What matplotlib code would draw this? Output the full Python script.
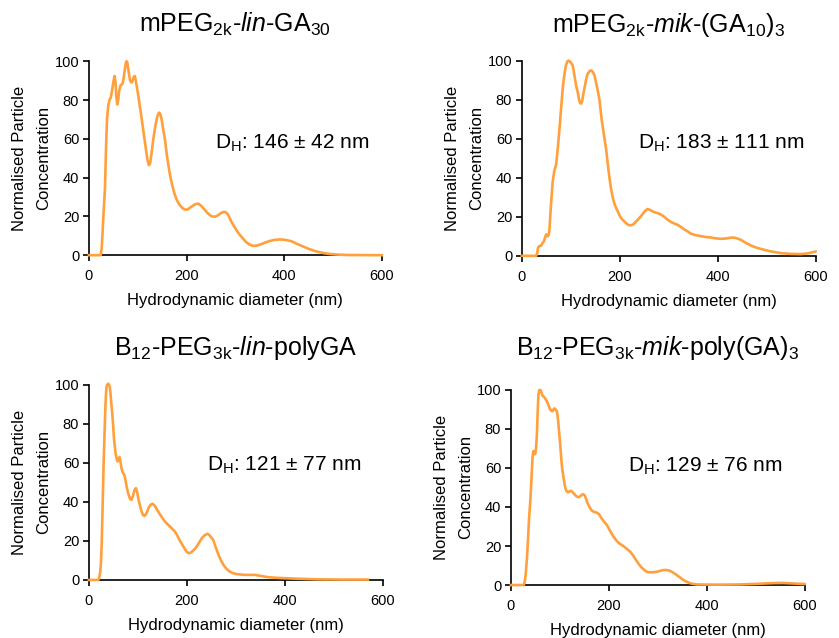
import matplotlib.pyplot as plt
import numpy as np

plt.rcParams['font.family'] = ['Liberation Sans', 'DejaVu Sans']
plt.rcParams['mathtext.fontset'] = 'custom'
plt.rcParams['mathtext.rm'] = 'Liberation Sans'
plt.rcParams['mathtext.it'] = 'Liberation Sans:italic'

orange = "#FFA03C"

# panel 1: mPEG2k-lin-GA30  (x in nm, y normalised)
x1 = [0, 24, 26, 28, 30, 32.8, 35, 37, 39.6, 42, 45, 48, 50.5, 52.6, 54.5, 56, 58, 60, 62, 64.8,
      67, 69, 71, 73.7, 75.5, 77, 78.5, 80, 82, 84.5, 87.4, 90, 92, 94, 96, 98, 101, 106, 111,
      116, 120, 123, 125.5, 128, 132, 136, 140, 143.5, 146, 149, 152, 155.6, 160, 165, 169,
      175, 180, 186, 193, 198, 203, 210, 217, 224, 230, 236, 241, 247, 252, 258, 264, 270,
      275, 280, 285, 292, 300, 306, 312.6, 320, 328, 336.5, 345, 352, 360, 370, 380, 391,
      400, 408, 415, 425, 435, 449, 465, 483, 495, 510, 530, 600]
y1 = [0, 0, 3, 12, 22, 34, 55, 70, 77, 80, 81.5, 86, 90, 92.4, 89, 82, 77.7, 80, 85, 87.6,
      88, 88.5, 91, 96, 99, 100, 99.5, 97, 93.6, 90, 89, 90.5, 92, 92.4, 90, 87, 82.5, 74, 65,
      56, 49, 46.4, 47.5, 52, 60, 66.5, 71.5, 73.5, 73, 70, 65, 60, 51, 43, 37.8,
      32, 28.5, 25.8, 24, 23.4, 23.7, 25, 26.2, 26.6, 25.5, 23.8, 22.3, 20.8, 20, 19.8, 20.5, 21.6,
      22.3, 22.2, 21, 17.2, 13.8, 11.5, 9.5, 7.3, 5.6, 4.8, 5, 5.6, 6.4, 7.3, 7.9, 8.1,
      8, 7.6, 7.2, 6, 4.9, 3.4, 2.0, 1.0, 0.6, 0.3, 0.1, 0]

# panel 2: mPEG2k-mik-(GA10)3
x2 = [0, 29, 31, 33, 34.5, 37, 39.5, 42, 45, 47, 49.7, 51, 53, 55, 56.5, 58, 60, 63, 66, 68, 70,
      73, 77, 81, 84, 87, 90, 93, 95, 97, 100, 102, 104, 107, 111, 114, 117, 119, 121, 123,
      125, 128, 131, 134, 138, 141, 144, 148, 151, 154, 158.5, 163, 167, 172, 176, 179, 182,
      186, 190, 196, 201, 205, 209.5, 214, 218, 223, 228, 232, 237, 244, 250, 254, 257, 261,
      266, 271, 277.5, 283, 290, 298, 305, 312, 318, 325, 332, 339, 345, 352, 359, 368, 377,
      386, 395, 407, 418, 425, 430.6, 436, 441, 447.6, 455, 461, 468, 480, 495, 510, 529,
      550, 570, 585, 600]
y2 = [0, 0, 1, 4, 4.8, 5, 5.3, 6.5, 7.4, 9, 11, 10.5, 10, 11, 14, 20, 28, 38, 43, 45, 46.7,
      54, 65.5, 78, 87, 93, 97.5, 99.6, 100, 99.8, 99, 98.3, 97.5, 93, 87, 84, 80, 78.2, 78, 79,
      82, 86, 90, 93, 94.5, 95, 94.5, 92.8, 89.5, 86, 80, 70, 63, 55, 46, 40, 34.7,
      29.5, 26, 22.7, 20, 18.7, 17.6, 16.5, 15.8, 15.6, 16.2, 17.2, 18.5, 20.5, 22.5, 23.5, 24, 23.6,
      23, 22.3, 21.9, 21.3, 20.2, 18.5, 17.3, 16.5, 15.9, 14.8, 13.5, 12.5, 11.4, 10.8, 10.4, 10, 9.6,
      9.4, 9, 8.7, 8.9, 9.2, 9.4, 9.2, 8.8, 8.2, 7, 6.2, 5.3, 4.1, 3.1, 2.2, 1.4,
      1.0, 0.9, 1.3, 2.2]

# panel 3: B12-PEG3k-lin-polyGA
x3 = [0, 19, 21, 23, 24.5, 26, 28, 29.5, 31, 32.5, 33.5, 35, 36, 37.5, 39.5, 41, 42.5, 44, 45.5,
      47.6, 49.5, 51, 53, 54.5, 56.5, 58.5, 60.5, 62.6, 64.5, 66.7, 69, 72, 74, 75.5, 77, 80,
      84, 87, 90, 93, 96, 98.5, 101, 104, 107, 110, 113, 116, 119, 122, 126, 130, 134, 138,
      141.5, 148, 155, 162, 169, 175.5, 180, 184, 189, 195, 200, 204, 208, 212, 216, 220, 226,
      232, 237, 242, 246, 250, 254, 258, 263, 267, 271, 276, 281, 286, 291, 298, 305, 318,
      330, 339, 348, 357, 366, 383, 400, 430, 468, 520, 570]
y3 = [0, 0, 1, 4, 8.5, 18, 38, 55, 68, 80, 88, 96, 99, 100, 100.5, 100, 99, 96, 91,
      85.5, 79, 73, 68, 65, 62, 60.7, 61.5, 63, 60.5, 57, 55, 54, 52, 50, 48, 44.5,
      41.5, 41, 43, 46, 47, 45, 41.5, 38.5, 35.5, 33.5, 32.8, 33.5, 35, 37, 38.5, 39, 38.2, 36.5,
      35, 32.5, 30, 28.2, 26.5, 24.8, 23, 21, 18.8, 16.2, 14.3, 13.7, 14, 14.8, 15.8, 17, 19.5,
      21.8, 23, 23.6, 23, 21.7, 20.5, 17.5, 14, 11.5, 9.4, 7.3, 5.7, 4.6, 3.8, 3.2, 2.9, 2.6,
      2.6, 2.6, 2.2, 1.8, 1.4, 1.1, 0.9, 0.6, 0.3, 0.2, 0.2]

# panel 4: B12-PEG3k-mik-poly(GA)3
x4 = [0, 26, 28, 30, 32.7, 35, 37, 39.5, 42, 44, 45.5, 47, 48.5, 50, 51.5, 53, 54.5, 56, 57.5,
      59, 61, 63, 64.5, 66.7, 70, 73.5, 76.5, 80, 83, 85, 87, 89, 91, 94, 96.5, 98.5, 100.7,
      103, 105, 107.5, 110, 112, 114, 117, 119, 121.5, 124.5, 128, 131, 134, 138, 142, 145,
      148, 150.5, 153, 155.5, 158.5, 162, 165, 168.7, 172, 176, 180, 185, 190, 196, 202,
      209.5, 216, 221, 226.5, 232, 238, 244, 250, 255, 260.5, 266, 272, 277.5, 285, 291, 298,
      305, 312, 318, 325, 332, 339, 346, 352, 359, 365, 372, 380, 420, 468, 500, 536, 555,
      570, 585, 600]
y4 = [0, 0, 1.5, 5, 13.7, 24, 34, 42.7, 55, 65, 68.5, 68.5, 67, 67.5, 71, 77, 88, 97, 99.7,
      100, 99.6, 98.3, 97, 96.6, 95.5, 94, 92.3, 90, 89.2, 89, 90, 90.5, 90, 89, 84, 78, 72,
      64, 59, 55, 51, 49, 48, 47.5, 47.8, 48.3, 48, 47, 46.2, 45.4, 45, 45.5, 46.3,
      46.5, 46, 44.5, 42.5, 41, 39.3, 38.2, 37.6, 37.3, 37, 36.3, 34.2, 32.5, 30.8, 28,
      24.8, 22.6, 21.4, 20.5, 19.5, 18.3, 17, 15, 13, 11, 9.2, 7.8, 6.8, 6.5, 6.6, 6.8,
      7.3, 7.7, 7.7, 7.3, 6.3, 5.1, 3.8, 2.6, 1.7, 1.0, 0.6, 0.3, 0.2, 0.3, 0.6, 1.0, 1.1,
      0.9, 0.7, 0.5]

titles = [r"mPEG$_\mathrm{2k}$-$\it{lin}$-GA$_\mathrm{30}$",
          r"mPEG$_\mathrm{2k}$-$\it{mik}$-(GA$_\mathrm{10}$)$_\mathrm{3}$",
          r"B$_\mathrm{12}$-PEG$_\mathrm{3k}$-$\it{lin}$-polyGA",
          r"B$_\mathrm{12}$-PEG$_\mathrm{3k}$-$\it{mik}$-poly(GA)$_\mathrm{3}$"]
dh_labels = [r"D$_\mathrm{H}$: 146 $\pm$ 42 nm",
             r"D$_\mathrm{H}$: 183 $\pm$ 111 nm",
             r"D$_\mathrm{H}$: 121 $\pm$ 77 nm",
             r"D$_\mathrm{H}$: 129 $\pm$ 76 nm"]
xs = [x1, x2, x3, x4]
ys = [y1, y2, y3, y4]

# layout per panel: axes rect, title offset, DH text position
rects = [[0.106, 0.600, 0.349, 0.304],
         [0.622, 0.599, 0.350, 0.306],
         [0.106, 0.091, 0.350, 0.306],
         [0.609, 0.083, 0.350, 0.306]]
title_off = [0.150, 0.149, 0.154, 0.180]
dh_pos = [(258, 55), (237, 55), (241, 56), (239, 58)]

fig = plt.figure(figsize=(8.39, 6.38), dpi=100)
for i in range(4):
    ax = fig.add_axes(rects[i])
    ax.plot(xs[i], ys[i], color=orange, lw=1.9, solid_joinstyle='round', clip_on=False, zorder=3)
    ax.set_xlim(0, 600)
    ax.set_ylim(0, 100)
    ax.set_xticks([0, 200, 400, 600])
    ax.set_yticks([0, 20, 40, 60, 80, 100])
    for s in ['top', 'right']:
        ax.spines[s].set_visible(False)
    for s in ['left', 'bottom']:
        ax.spines[s].set_linewidth(1.2)
    ax.tick_params(axis='both', direction='out', length=4, width=1.2, labelsize=10.5)
    ax.tick_params(axis='x', pad=6)
    ax.tick_params(axis='y', pad=3)
    ax.set_xlabel("Hydrodynamic diameter (nm)", fontsize=12, va='center')
    ax.xaxis.set_label_coords(0.5, -0.232)
    ax.set_ylabel("Normalised Particle\nConcentration", fontsize=12, va='center',
                  linespacing=1.75)
    ax.yaxis.set_label_coords(-0.195, 0.5)
    ax.text(0.5, 1 + title_off[i], titles[i], transform=ax.transAxes, ha='center',
            va='baseline', fontsize=18)
    ax.text(dh_pos[i][0], dh_pos[i][1], dh_labels[i], ha='left', va='baseline', fontsize=15)

fig.savefig("out.png", dpi=100)
